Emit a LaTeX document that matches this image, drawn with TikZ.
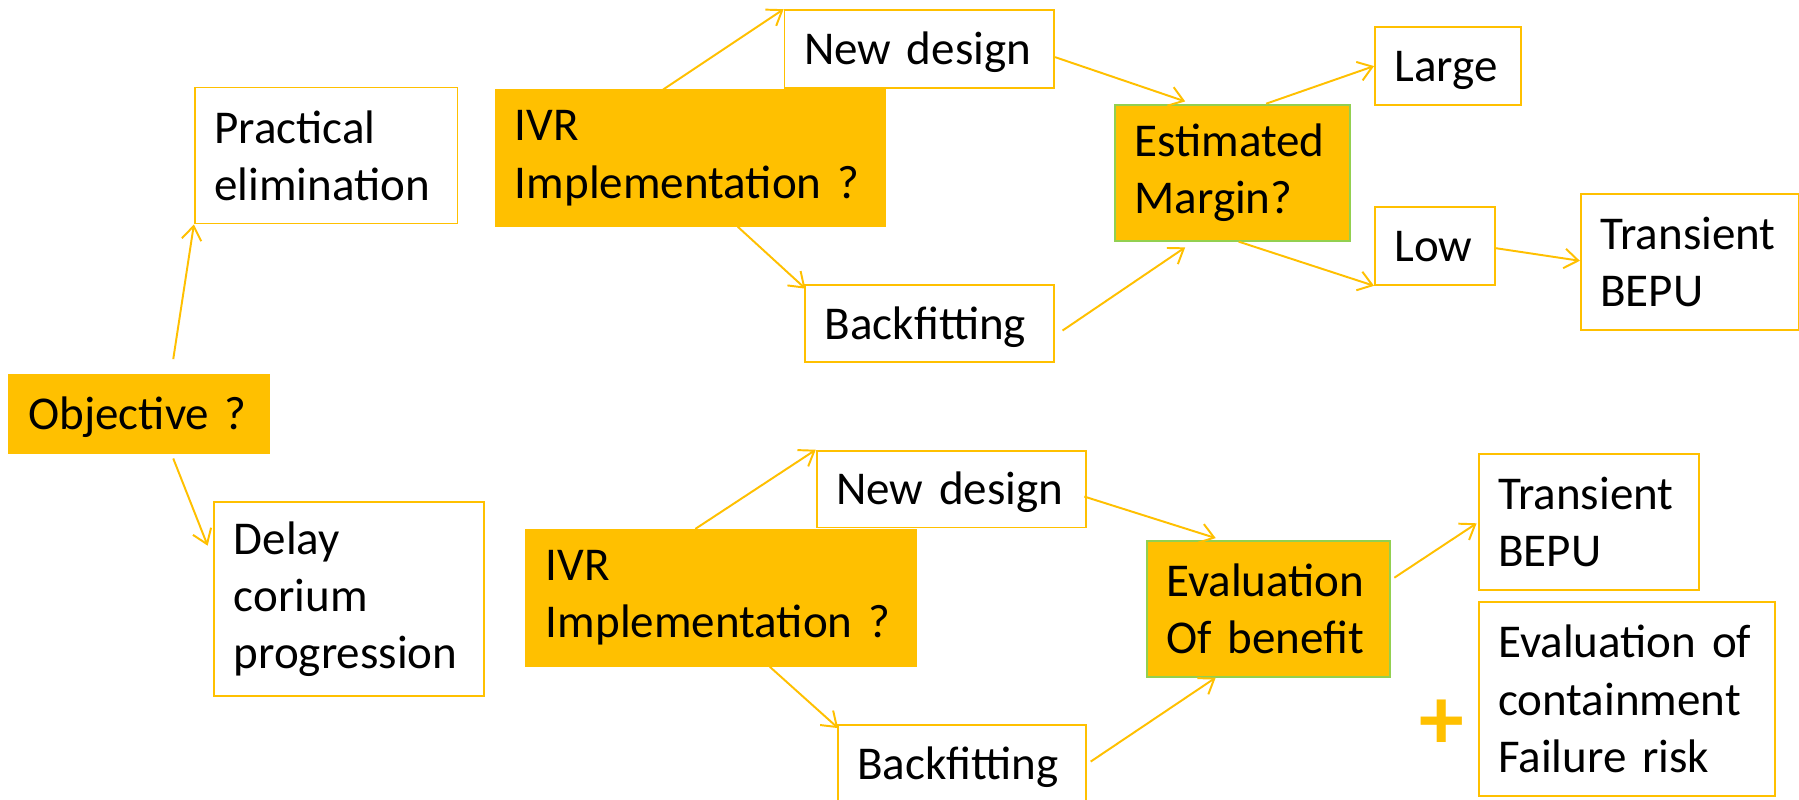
\documentclass[tikz,border=0pt]{standalone}
\usepackage{fontspec}
\setmainfont{Carlito}
\usetikzlibrary{arrows.meta}
\definecolor{orn}{HTML}{FFC000}
\definecolor{grn}{HTML}{92D050}
\tikzset{
  box/.style={draw=orn, line width=1.6pt, fill=white, anchor=north west,
    inner xsep=17pt, inner ysep=0pt, align=left, text=black,
    font=\fontsize{41}{50}\selectfont},
  oneline/.style={text height=27pt, text depth=0pt},
  obox/.style={box, fill=orn, draw=orn},
  gbox/.style={box, fill=orn, draw=grn},
  arr/.style={draw=orn, line width=1.7pt,
    -{Straight Barb[length=12pt,width=17pt,line width=1.7pt]}},
}
\begin{document}
\begin{tikzpicture}[x=1pt,y=-1pt]
\clip (0,0) rectangle (1568,697);
\fill[white] (0,0) rectangle (1568,697);
% left part
\node[obox, oneline, minimum height=67.7pt, text width=192.6pt] (obj) at (7,326) {Objective~?};
\node[box, minimum height=118.5pt, text width=195pt] (prac) at (169,75.5) {Practical\\elimination};
\node[box, minimum height=169pt, text width=201pt] (delay) at (186,437) {Delay\\corium\\progression};
% top branch
\node[obox, minimum height=118pt, text width=306pt] (ivr1) at (431,78) {IVR\\Implementation~?};
\node[box, oneline, minimum height=68pt, text width=201pt] (nd1) at (683,8) {New~design};
\node[box, oneline, minimum height=67.4pt, text width=183pt] (bf1) at (701,247.6) {Backfitting};
\node[gbox, minimum height=118.6pt, text width=171pt] (est) at (971,90.4) {Estimated\\Margin?};
\node[box, oneline, minimum height=67.6pt, text width=93.4pt] (large) at (1197.6,23) {Large};
\node[box, oneline, minimum height=68pt, text width=70.4pt] (low) at (1197.6,179.5) {Low};
\node[box, minimum height=119pt, text width=156pt] (tr1) at (1377,168) {Transient\\BEPU};
% bottom branch
\node[obox, minimum height=118.6pt, text width=306pt] (ivr2) at (458,461) {IVR\\Implementation~?};
\node[box, oneline, minimum height=67pt, text width=200.5pt] (nd2) at (711,392) {New~design};
\node[box, oneline, minimum height=68pt, text width=182pt] (bf2) at (729.5,631) {Backfitting};
\node[gbox, minimum height=118pt, text width=178.4pt] (eval) at (998.6,471) {Evaluation\\Of~benefit};
\node[box, minimum height=118.6pt, text width=158pt] (tr2) at (1288,395) {Transient\\BEPU};
\node[box, minimum height=169pt, text width=224pt] (cont) at (1288,524) {Evaluation~of\\containment\\Failure~risk};
\node[inner sep=0pt, text=orn, font=\fontsize{78}{78}\selectfont\bfseries] (plus) at (1257,632) {+};
% connectors
\draw[arr] ([shift={(144,-13)}]obj.north west) -- (prac.south west);
\draw[arr] ([shift={(144,4.3)}]obj.south west) -- ([shift={(-5,38.6)}]delay.north west);
\draw[arr] ([shift={(147,0)}]ivr1.north west) -- (nd1.north west);
\draw[arr] ([shift={(212,0)}]ivr1.south west) -- ([shift={(1,4)}]bf1.north west);
\draw[arr] ([shift={(0,7)}]nd1.east) -- ([shift={(62,-2)}]est.north west);
\draw[arr] ([shift={(6.5,6)}]bf1.east) -- ([shift={(62,5)}]est.south west);
\draw[arr] ([shift={(132.5,0)}]est.north west) -- (large.west);
\draw[arr] ([shift={(108.6,0)}]est.south west) -- (low.south west);
\draw[arr] ([shift={(0,2)}]low.east) -- ([shift={(0,-1)}]tr1.west);
\draw[arr] ([shift={(148,0)}]ivr2.north west) -- (nd2.north west);
\draw[arr] ([shift={(213,0)}]ivr2.south west) -- ([shift={(1,3.6)}]bf2.north west);
\draw[arr] ([shift={(-2,6.5)}]nd2.east) -- ([shift={(61,-2)}]eval.north west);
\draw[arr] ([shift={(3.5,-2)}]bf2.east) -- ([shift={(61,0)}]eval.south west);
\draw[arr] ([shift={(2.7,32.5)}]eval.north east) -- ([shift={(-1,1)}]tr2.west);
\end{tikzpicture}
\end{document}
